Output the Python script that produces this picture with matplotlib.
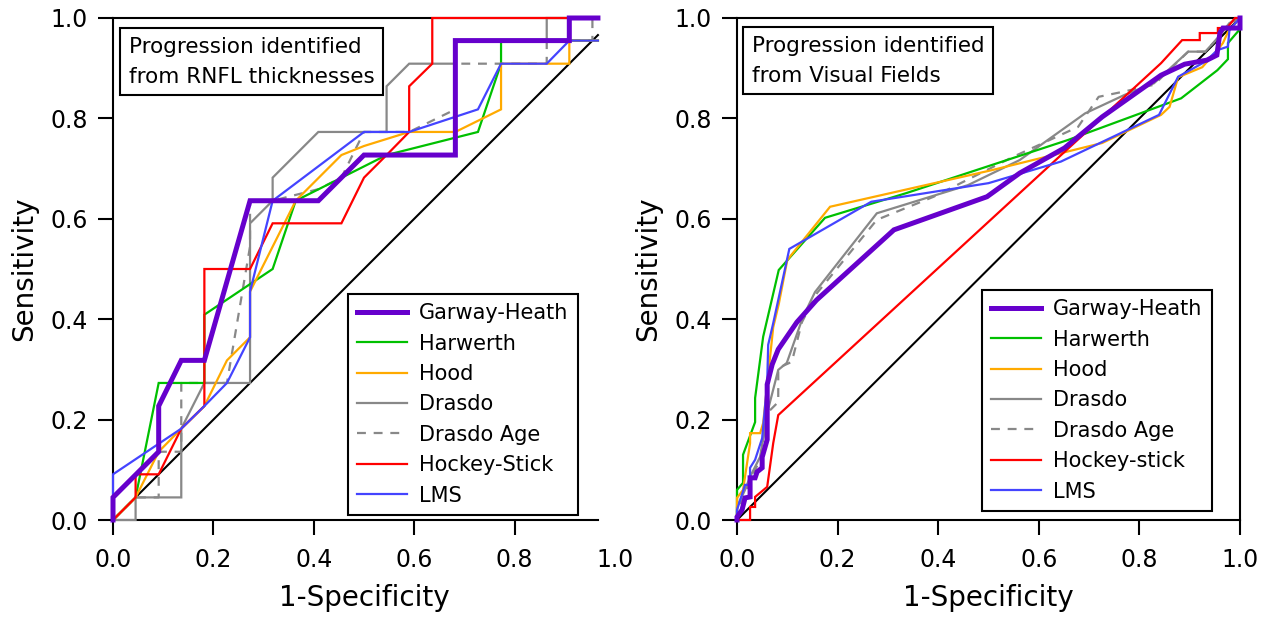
import numpy as np
import matplotlib
matplotlib.use('Agg')
import matplotlib.pyplot as plt

# ---- left panel: progression identified from RNFL thicknesses ----
L_gh_x = [0, 0, 0.091, 0.091, 0.136, 0.182, 0.273, 0.409, 0.5, 0.682, 0.682, 0.909, 0.909, 0.966]
L_gh_y = [0, 0.045, 0.136, 0.227, 0.318, 0.318, 0.636, 0.636, 0.727, 0.727, 0.955, 0.955, 1.0, 1.0]

L_hw_x = [0, 0.045, 0.091, 0.182, 0.182, 0.318, 0.364, 0.545, 0.727, 0.773, 0.773, 0.966]
L_hw_y = [0, 0.045, 0.273, 0.273, 0.409, 0.5, 0.636, 0.727, 0.773, 0.909, 0.955, 0.955]

L_hood_x = [0, 0.045, 0.091, 0.136, 0.182, 0.227, 0.273, 0.273, 0.364, 0.455, 0.5, 0.59, 0.682,
            0.773, 0.773, 0.909, 0.909, 0.966]
L_hood_y = [0, 0.045, 0.136, 0.182, 0.227, 0.318, 0.364, 0.455, 0.636, 0.727, 0.745, 0.773, 0.773,
            0.818, 0.909, 0.909, 0.955, 0.955]

L_dr_x = [0, 0.045, 0.045, 0.136, 0.136, 0.182, 0.273, 0.273, 0.318, 0.318, 0.409, 0.545, 0.545,
          0.59, 0.682, 0.682, 0.864, 0.864, 0.966]
L_dr_y = [0, 0, 0.045, 0.045, 0.182, 0.273, 0.273, 0.591, 0.636, 0.682, 0.773, 0.773, 0.864,
          0.909, 0.909, 0.955, 0.955, 1.0, 1.0]

L_dra_x = [0, 0.045, 0.091, 0.091, 0.136, 0.136, 0.227, 0.273, 0.273, 0.318, 0.409, 0.455, 0.5,
           0.59, 0.682, 0.682, 0.864, 0.864, 0.955, 0.955, 0.966]
L_dra_y = [0, 0.045, 0.045, 0.136, 0.136, 0.273, 0.273, 0.545, 0.636, 0.636, 0.659, 0.682, 0.773,
           0.773, 0.818, 0.909, 0.909, 0.955, 0.955, 1.0, 1.0]

L_hs_x = [0, 0.045, 0.045, 0.091, 0.136, 0.182, 0.182, 0.273, 0.318, 0.455, 0.5, 0.545, 0.59,
          0.59, 0.636, 0.636, 0.966]
L_hs_y = [0, 0.045, 0.091, 0.091, 0.182, 0.227, 0.5, 0.5, 0.591, 0.591, 0.682, 0.727, 0.773,
          0.864, 0.909, 1.0, 1.0]

L_lms_x = [0, 0, 0.136, 0.182, 0.227, 0.273, 0.273, 0.318, 0.5, 0.59, 0.727, 0.773, 0.864, 0.909, 0.966]
L_lms_y = [0, 0.091, 0.182, 0.227, 0.273, 0.364, 0.455, 0.636, 0.773, 0.773, 0.818, 0.909, 0.909,
           0.955, 0.955]

# ---- right panel: progression identified from visual fields ----
R_gh_x = [0, 0, 0.01, 0.016, 0.026, 0.026, 0.036, 0.04, 0.05, 0.05, 0.06, 0.06, 0.07, 0.082,
          0.119, 0.158, 0.312, 0.497, 0.562, 0.651, 0.726, 0.843, 0.89, 0.934, 0.954, 0.96,
          0.966, 0.99, 1.0, 1.0]
R_gh_y = [0, 0.006, 0.02, 0.044, 0.046, 0.084, 0.084, 0.096, 0.104, 0.125, 0.16, 0.27, 0.31, 0.34,
          0.394, 0.438, 0.578, 0.644, 0.691, 0.741, 0.803, 0.886, 0.908, 0.916, 0.926, 0.97,
          0.98, 0.98, 0.98, 1.0]

R_hw_x = [0, 0, 0.012, 0.012, 0.036, 0.036, 0.052, 0.069, 0.083, 0.175, 0.336, 0.658, 0.883,
          0.955, 0.976, 0.976, 1.0, 1.0]
R_hw_y = [0, 0.06, 0.074, 0.13, 0.195, 0.243, 0.365, 0.438, 0.498, 0.602, 0.651, 0.757, 0.84,
          0.896, 0.918, 0.95, 0.978, 1.0]

R_hood_x = [0, 0, 0.012, 0.026, 0.026, 0.046, 0.052, 0.072, 0.083, 0.1, 0.185, 0.507, 0.726,
            0.843, 0.86, 0.877, 0.925, 0.955, 0.966, 0.976, 1.0]
R_hood_y = [0, 0.044, 0.06, 0.153, 0.173, 0.173, 0.193, 0.384, 0.43, 0.518, 0.624, 0.697, 0.751,
            0.807, 0.823, 0.882, 0.902, 0.936, 0.95, 0.972, 1.0]

R_dr_x = [0, 0, 0.016, 0.026, 0.046, 0.06, 0.082, 0.099, 0.131, 0.155, 0.278, 0.459, 0.562,
          0.692, 0.771, 0.829, 0.897, 0.931, 0.952, 0.979, 1.0]
R_dr_y = [0, 0.026, 0.06, 0.086, 0.126, 0.213, 0.299, 0.313, 0.404, 0.454, 0.611, 0.667, 0.717,
          0.81, 0.847, 0.87, 0.933, 0.933, 0.956, 0.99, 1.0]

R_dra_x = [0, 0, 0.016, 0.026, 0.046, 0.06, 0.082, 0.082, 0.109, 0.129, 0.159, 0.278, 0.391,
           0.548, 0.678, 0.719, 0.767, 0.829, 0.897, 0.931, 0.952, 0.979, 1.0]
R_dra_y = [0, 0.02, 0.05, 0.08, 0.12, 0.213, 0.235, 0.303, 0.315, 0.394, 0.452, 0.598, 0.644,
           0.723, 0.783, 0.843, 0.853, 0.867, 0.933, 0.933, 0.956, 0.99, 1.0]

R_hs_x = [0, 0.026, 0.026, 0.036, 0.036, 0.06, 0.072, 0.082, 0.843, 0.885, 0.92, 0.92, 0.956,
          0.956, 0.974, 0.99, 1.0]
R_hs_y = [0, 0, 0.026, 0.026, 0.046, 0.066, 0.153, 0.209, 0.91, 0.956, 0.956, 0.97, 0.97,
          0.98, 0.98, 1.0, 1.0]

R_lms_x = [0, 0, 0.016, 0.026, 0.026, 0.036, 0.05, 0.06, 0.062, 0.072, 0.104, 0.267, 0.5, 0.644,
           0.839, 0.877, 0.931, 0.955, 0.976, 0.979, 1.0]
R_lms_y = [0, 0.02, 0.07, 0.07, 0.104, 0.12, 0.163, 0.273, 0.349, 0.392, 0.54, 0.634, 0.671, 0.714,
           0.807, 0.883, 0.913, 0.936, 0.943, 0.976, 1.0]

ticks = [0.0, 0.2, 0.4, 0.6, 0.8, 1.0]
tick_labels = ['0.0', '0.2', '0.4', '0.6', '0.8', '1.0']

styles = [
    # label, color, width, dashes, zorder
    ('Garway-Heath', '#6600cc', 3.6, None, 10),
    ('Harwerth', '#00c000', 1.6, None, 4),
    ('Hood', '#ffaa00', 1.6, None, 5),
    ('Drasdo', '#888888', 1.6, None, 3),
    ('Drasdo Age', '#888888', 1.6, (4, 3.5), 3),
    ('Hockey-Stick', '#ff0000', 1.6, None, 6),
    ('LMS', '#4444ff', 1.6, None, 7),
]

left_data = [(L_gh_x, L_gh_y), (L_hw_x, L_hw_y), (L_hood_x, L_hood_y), (L_dr_x, L_dr_y),
             (L_dra_x, L_dra_y), (L_hs_x, L_hs_y), (L_lms_x, L_lms_y)]
right_data = [(R_gh_x, R_gh_y), (R_hw_x, R_hw_y), (R_hood_x, R_hood_y), (R_dr_x, R_dr_y),
              (R_dra_x, R_dra_y), (R_hs_x, R_hs_y), (R_lms_x, R_lms_y)]

fig = plt.figure(figsize=(12.74, 6.21), dpi=100)
ax1 = fig.add_axes([113 / 1274, 101 / 621, 502 / 1274, 502 / 621])
ax2 = fig.add_axes([737 / 1274, 101 / 621, 503 / 1274, 502 / 621])


def draw(ax, data, hs_label, xmax, box_text, box_xy, leg_xy):
    ax.plot([0, xmax], [0, xmax], color='black', lw=1.5, zorder=2, clip_on=False)
    handles = []
    for (x, y), (lab, col, lw, dash, z) in zip(data, styles):
        if lab == 'Hockey-Stick':
            lab = hs_label
        line, = ax.plot(x, y, color=col, lw=lw, zorder=z, clip_on=False,
                        solid_joinstyle='miter', label=lab)
        if dash is not None:
            line.set_dashes(dash)
        handles.append(line)
    ax.set_xlim(0, 1)
    ax.set_ylim(0, 1)
    ax.set_xticks(ticks)
    ax.set_xticklabels(tick_labels)
    ax.set_yticks(ticks)
    ax.set_yticklabels(tick_labels)
    ax.tick_params(direction='out', length=11, width=1.5, labelsize=17)
    ax.tick_params(axis='x', pad=9)
    ax.tick_params(axis='y', pad=7)
    for s in ax.spines.values():
        s.set_linewidth(1.5)
    ax.set_xlabel('1-Specificity', fontsize=20, labelpad=9)
    ax.set_ylabel('Sensitivity', fontsize=20, labelpad=9)
    ax.text(box_xy[0], box_xy[1], box_text, transform=ax.transAxes, fontsize=15.5,
            ha='left', va='top', zorder=20, linespacing=1.6,
            bbox=dict(boxstyle='square,pad=0.4', fc='white', ec='black', lw=1.5))
    leg = ax.legend(handles=handles, loc='lower left', bbox_to_anchor=leg_xy,
                    bbox_transform=ax.transAxes, borderaxespad=0, fontsize=15,
                    fancybox=False, framealpha=1, edgecolor='black',
                    handlelength=2.4, handletextpad=0.55, labelspacing=0.5,
                    borderpad=0.45)
    leg.get_frame().set_linewidth(1.5)
    leg.set_zorder(20)


draw(ax1, left_data, 'Hockey-Stick', 0.966,
     'Progression identified\nfrom RNFL thicknesses', (0.032, 0.962), (0.468, 0.01))
draw(ax2, right_data, 'Hockey-stick', 1.0,
     'Progression identified\nfrom Visual Fields', (0.03, 0.964), (0.487, 0.018))

# left panel: axis frame stops short of 1.0
ax1.spines['right'].set_visible(False)
ax1.spines['bottom'].set_bounds(0, 0.966)
ax1.spines['top'].set_bounds(0, 0.966)
ax1.tick_params(top=False, right=False)
ax1.xaxis.get_major_ticks()[-1].tick1line.set_visible(False)
ax2.tick_params(top=False, right=False)

fig.savefig('out.png', dpi=100)
